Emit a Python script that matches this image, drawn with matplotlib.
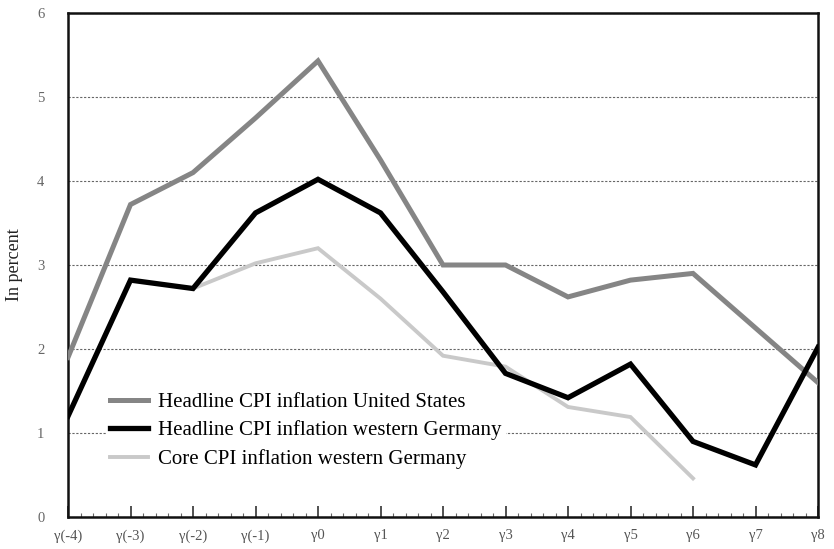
import matplotlib
matplotlib.use("Agg")
import matplotlib.pyplot as plt
from matplotlib.ticker import MultipleLocator

categories = ["γ(-4)", "γ(-3)", "γ(-2)", "γ(-1)", "γ0", "γ1", "γ2", "γ3", "γ4", "γ5", "γ6", "γ7", "γ8"]
us_headline = [1.9, 3.72, 4.1, 4.75, 5.43, 4.25, 3.0, 3.0, 2.62, 2.82, 2.9, 2.25, 1.6]
de_headline = [1.2, 2.82, 2.72, 3.62, 4.02, 3.62, 2.68, 1.71, 1.42, 1.82, 0.9, 0.62, 2.02]
de_core = [None, None, 2.72, 3.02, 3.2, 2.6, 1.92, 1.79, 1.31, 1.19, 0.46, None, None]
labels = ["Headline CPI inflation United States",
          "Headline CPI inflation western Germany",
          "Core CPI inflation western Germany"]

plt.rcParams['font.family'] = ['Liberation Serif', 'DejaVu Serif']

fig = plt.figure(figsize=(8.34, 5.49), dpi=100)
ax = fig.add_axes([68/834, 1-517/549, 750/834, 504/549])

x = list(range(len(categories)))
core_x = [i for i, v in zip(x, de_core) if v is not None]
core_y = [v for v in de_core if v is not None]

l1, = ax.plot(x, us_headline, color="#858585", lw=3.6, solid_joinstyle="miter", zorder=3)
l2, = ax.plot(x, de_headline, color="#000000", lw=3.8, solid_joinstyle="miter", zorder=4)
l3, = ax.plot(core_x, core_y, color="#c9c9c9", lw=2.8, solid_joinstyle="miter", zorder=2)

ax.set_xlim(0, len(categories) - 1)
ax.set_ylim(0, 6)
ax.set_xticks(x)
ax.set_xticklabels(categories)
ax.xaxis.set_minor_locator(MultipleLocator(0.2))
ax.set_yticks(range(0, 7))
ax.yaxis.grid(True, linestyle=(0, (2, 1.5)), color="#666666", lw=0.8)
ax.tick_params(axis="x", which="major", direction="in", length=8, width=1.2, color="#333333",
               labelsize=10.5, labelcolor="#555555", pad=9)
ax.tick_params(axis="x", which="minor", direction="in", length=3, width=0.8, color="#666666")
ax.tick_params(axis="y", which="major", length=0, labelsize=10.5, labelcolor="#666666", pad=17)
for s in ax.spines.values():
    s.set_linewidth(1.8)
    s.set_color("#111111")

ax.set_ylabel("In percent", fontsize=13, color="#222222", labelpad=10)

leg = ax.legend([l1, l2, l3], labels, loc="lower left", bbox_to_anchor=(0.037, 0.066),
                frameon=True, fontsize=15, handlelength=1.8, handletextpad=0.48,
                labelspacing=0.42, borderpad=0.2)
leg.get_frame().set_edgecolor("none")
leg.get_frame().set_facecolor("white")
leg.get_frame().set_alpha(1)
leg.set_zorder(5)

fig.savefig("out.png", dpi=100)
